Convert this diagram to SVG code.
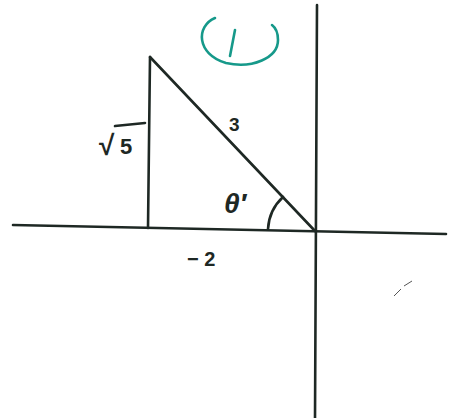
<svg xmlns="http://www.w3.org/2000/svg" width="454" height="418" viewBox="0 0 454 418">
<style>
.ln{stroke:#1e2824;stroke-width:2.6;fill:none;stroke-linecap:round}
.tx{font-family:"Liberation Sans",Arial,sans-serif;fill:#1e2824;font-weight:bold}
.tl{stroke:#16998a;stroke-width:2.6;fill:none;stroke-linecap:round}
</style>
<rect width="454" height="418" fill="#ffffff"/>
<g id="connectors">
<path class="ln" d="M13 225 L446 234"/>
<path class="ln" d="M317 5 L315 418"/>
</g>
<g id="triangle">
<path class="ln" d="M150 57 L148 228"/>
<path class="ln" d="M150 57 L315 231"/>
<path class="ln" d="M268 229 A47 47 0 0 1 283 197"/>
</g>
<g id="label-circle">
<path class="tl" d="M215 18 C196 26 196 54 226 63 C252 69 278 58 278 40 C278 33 276 28 272 25"/>
<path class="tl" d="M235 30 L230 56" stroke-width="2.2"/>
</g>
<g id="labels">
<text class="tx" x="99" y="155" font-size="28" font-weight="normal">√</text>
<path class="ln" d="M115 126 L145 123"/>
<text class="tx" x="120" y="154" font-size="22">5</text>
<text class="tx" x="229" y="131" font-size="19">3</text>
<text class="tx" x="224" y="213" font-size="28" font-weight="normal" font-style="italic">θ′</text>
<text class="tx" x="187" y="266" font-size="20">− 2</text>
</g>
<path d="M394 296 L401 289 M404 286 L412 281" stroke="#555" stroke-width="1" fill="none"/>
</svg>
